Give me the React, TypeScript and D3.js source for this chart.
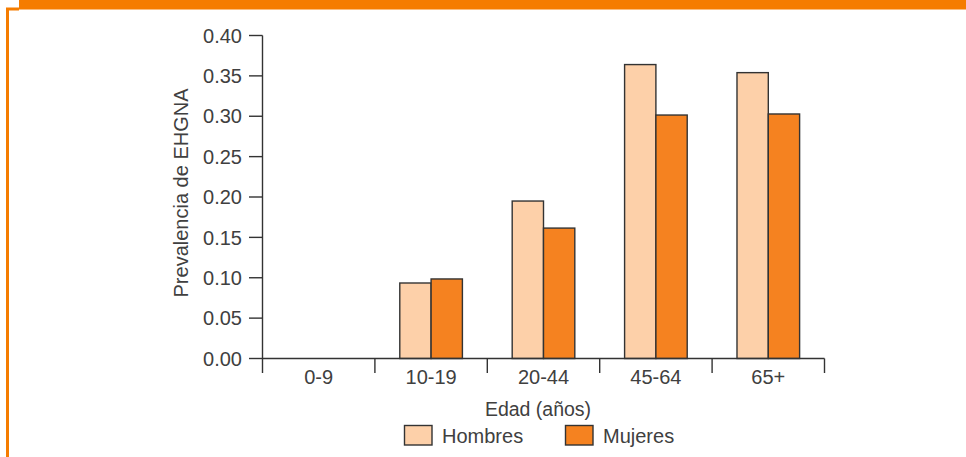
import React from "react";
import * as d3 from "d3";

const categories = ["0-9", "10-19", "20-44", "45-64", "65+"];
const hombres = [0, 0.0935, 0.195, 0.364, 0.354];
const mujeres = [0, 0.0985, 0.1615, 0.3015, 0.3028];
const yTicks = [0, 0.05, 0.1, 0.15, 0.2, 0.25, 0.3, 0.35, 0.4];
const seriesNames = ["Hombres", "Mujeres"];
const colors = ["#FDD0A9", "#F58220"];

const W = 966;
const H = 457;
const FONT = "'Liberation Sans', Arial, Helvetica, sans-serif";
const TXT = "#404040";

export default function App() {
  const x = d3.scaleBand<string>().domain(categories).range([262.5, 824.5]);
  const y = d3.scaleLinear().domain([0, 0.4]).range([358.5, 35.5]);
  const xs = d3.scaleBand<string>().domain(seriesNames).range([0, x.bandwidth()]).paddingInner(0).paddingOuter(0.795);
  const data = [hombres, mujeres];
  return (
    <svg width={W} height={H} style={{ position: "absolute", left: 0, top: 0, background: "#fff" }}>
      <rect x={19} y={0} width={W - 19} height={9.5} fill="#F57C00" />
      <path d={`M7.5,${H} V9 H19`} fill="none" stroke="#F57C00" strokeWidth={3} />
      <g fontFamily={FONT} fill={TXT}>
        {data.map((vals, si) =>
          categories.map((c, i) =>
            vals[i] > 0 ? (
              <rect
                key={`${si}-${i}`}
                x={(x(c) as number) + (xs(seriesNames[si]) as number)}
                y={y(vals[i])}
                width={xs.bandwidth()}
                height={y(0) - y(vals[i])}
                fill={colors[si]}
                stroke="#333"
                strokeWidth={1.4}
              />
            ) : null
          )
        )}
        {/* y axis */}
        <line x1={262.5} x2={262.5} y1={y(0.4)} y2={373} stroke="#333" strokeWidth={1.4} />
        {yTicks.map((t) => (
          <g key={t}>
            <line x1={249} x2={262.5} y1={y(t)} y2={y(t)} stroke="#333" strokeWidth={1.4} />
            <text x={242} y={y(t)} dy="0.36em" textAnchor="end" fontSize={20}>
              {t.toFixed(2)}
            </text>
          </g>
        ))}
        {/* x axis */}
        <line x1={262.5} x2={824.5} y1={y(0)} y2={y(0)} stroke="#333" strokeWidth={1.4} />
        {categories.map((c) => (
          <line key={c} x1={(x(c) as number) + x.bandwidth()} x2={(x(c) as number) + x.bandwidth()} y1={y(0)} y2={373} stroke="#333" strokeWidth={1.4} />
        ))}
        {categories.map((c) => (
          <text key={c} x={(x(c) as number) + x.bandwidth() / 2} y={383.5} textAnchor="middle" fontSize={20}>
            {c}
          </text>
        ))}
        <text x={538} y={415.5} textAnchor="middle" fontSize={19.5}>
          Edad (años)
        </text>
        <text transform="translate(188,193) rotate(-90)" textAnchor="middle" fontSize={20}>
          Prevalencia de EHGNA
        </text>
        {/* legend */}
        {seriesNames.map((s, i) => {
          const lx = [404.5, 565.5][i];
          return (
            <g key={s}>
              <rect x={lx} y={425.5} width={27.5} height={19.5} fill={colors[i]} stroke="#333" strokeWidth={1.4} />
              <text x={lx + 37.5} y={442.5} fontSize={20}>
                {s}
              </text>
            </g>
          );
        })}
      </g>
    </svg>
  );
}
